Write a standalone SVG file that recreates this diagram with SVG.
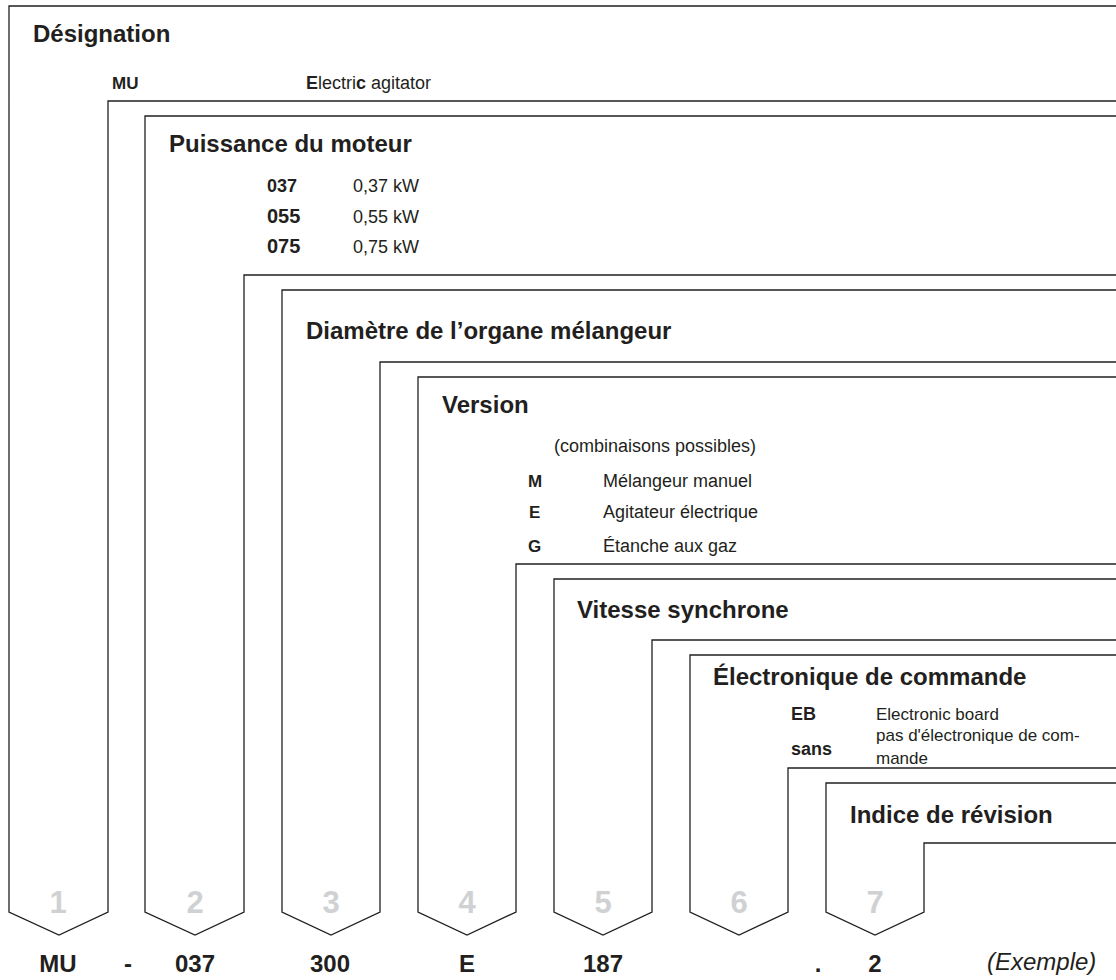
<svg xmlns="http://www.w3.org/2000/svg" width="1116" height="980" viewBox="0 0 1116 980">
<style>
.frame{fill:none;stroke:#231f20;stroke-width:1.3;stroke-linejoin:miter}
text{font-family:"Liberation Sans",Arial,sans-serif;fill:#231f20}
.h{font-size:24px;font-weight:bold}
.b{font-size:18px}
.bb{font-size:18px;font-weight:bold}
.num{font-size:31px;font-weight:bold;fill:#cfd1d3;text-anchor:middle}
.code{font-size:24px;font-weight:bold;text-anchor:middle}
</style>
<rect width="1116" height="980" fill="#ffffff"/>
<g id="node1">
<path class="frame" d="M1120,6 H9 V912 L59,935 L108,912 V101 H1120"/>
<text class="h" x="33" y="42">Désignation</text>
<text class="bb" x="112" y="89" style="font-size:17px">MU</text>
<text class="b" x="306" y="89"><tspan font-weight="bold">E</tspan>lectri<tspan font-weight="bold">c</tspan> agitator</text>
<text class="num" x="58" y="913">1</text>
</g>
<g id="node2">
<path class="frame" d="M1120,116 H145 V912 L195,935 L244,912 V275 H1120"/>
<text class="h" x="169" y="152">Puissance du moteur</text>
<text class="bb" x="267" y="192">037</text>
<text class="b" x="353" y="192">0,37 kW</text>
<text class="bb" x="267" y="223" style="font-size:20px">055</text>
<text class="b" x="353" y="223">0,55 kW</text>
<text class="bb" x="267" y="253" style="font-size:20px">075</text>
<text class="b" x="353" y="253">0,75 kW</text>
<text class="num" x="195" y="913">2</text>
</g>
<g id="node3">
<path class="frame" d="M1120,290 H282 V912 L331,935 L380,912 V362 H1120"/>
<text class="h" x="306" y="339">Diamètre de l’organe mélangeur</text>
<text class="num" x="331" y="913">3</text>
</g>
<g id="node4">
<path class="frame" d="M1120,377 H418 V912 L467,935 L516,912 V564 H1120"/>
<text class="h" x="442" y="413">Version</text>
<text class="b" x="554" y="452">(combinaisons possibles)</text>
<text class="bb" x="528" y="487" style="font-size:17px">M</text>
<text class="b" x="603" y="487">Mélangeur manuel</text>
<text class="bb" x="529" y="518" style="font-size:17px">E</text>
<text class="b" x="603" y="518">Agitateur électrique</text>
<text class="bb" x="528" y="552" style="font-size:17px">G</text>
<text class="b" x="603" y="552">Étanche aux gaz</text>
<text class="num" x="467" y="913">4</text>
</g>
<g id="node5">
<path class="frame" d="M1120,579 H554 V912 L603,935 L652,912 V640 H1120"/>
<text class="h" x="577" y="618">Vitesse synchrone</text>
<text class="num" x="603" y="913">5</text>
</g>
<g id="node6">
<path class="frame" d="M1120,655 H690 V912 L739,935 L788,912 V768 H1120"/>
<text class="h" x="713" y="685">Électronique de commande</text>
<text class="bb" x="791" y="720">EB</text>
<text class="b" x="876" y="720" style="font-size:17px">Electronic board</text>
<text class="b" x="876" y="741" style="font-size:17px">pas d'électronique de com-</text>
<text class="bb" x="791" y="755">sans</text>
<text class="b" x="876" y="764" style="font-size:17px">mande</text>
<text class="num" x="739" y="913">6</text>
</g>
<g id="node7">
<path class="frame" d="M1120,783 H826 V912 L875,935 L924,912 V843 H1120"/>
<text class="h" x="850" y="823">Indice de révision</text>
<text class="num" x="875" y="913">7</text>
</g>
<g id="connectors">
<text class="code" x="58" y="972">MU</text>
<text class="code" x="128" y="972">-</text>
<text class="code" x="195" y="972">037</text>
<text class="code" x="330" y="972">300</text>
<text class="code" x="467" y="972">E</text>
<text class="code" x="603" y="972">187</text>
<text class="code" x="818" y="972">.</text>
<text class="code" x="875" y="972">2</text>
<text x="987" y="970" style="font-size:24px;font-style:italic">(Exemple)</text>
</g>
</svg>
